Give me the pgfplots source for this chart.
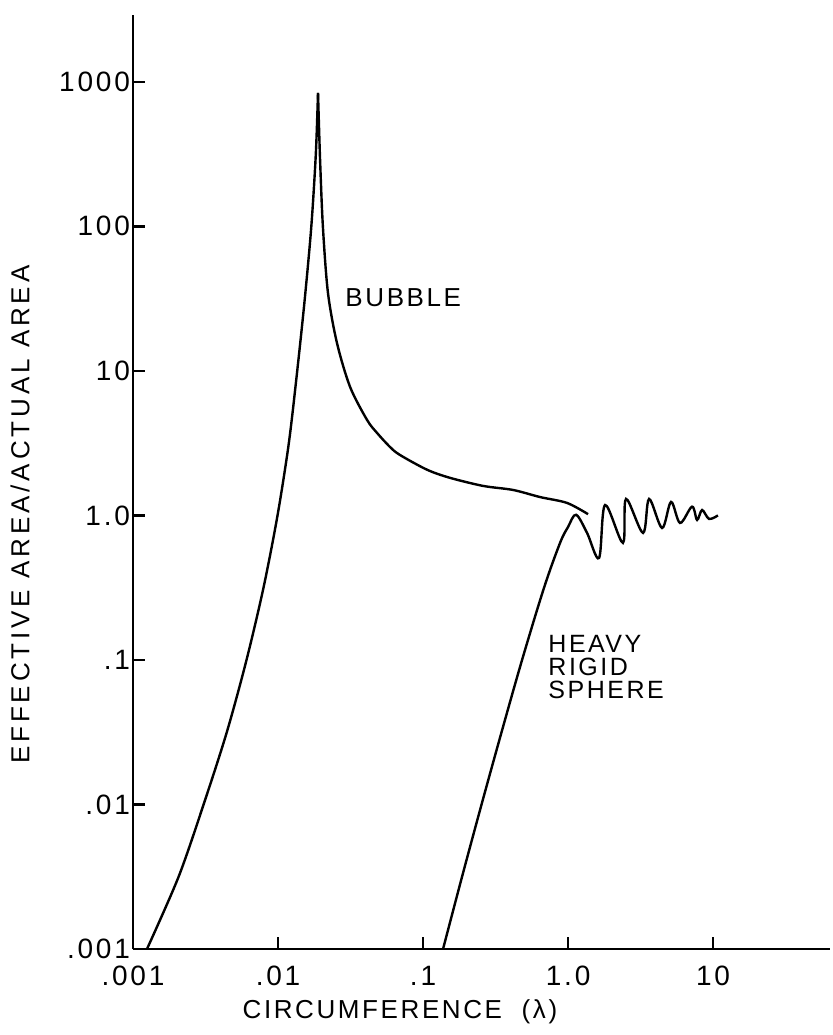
\documentclass[border=0pt]{standalone}
\usepackage{fontspec}
\setmainfont{Liberation Sans}
\newfontfamily\leroy[LetterSpace=10]{Liberation Sans}
\newfontfamily\leroyy[LetterSpace=15]{Liberation Sans}
\usepackage{pgfplots}
\pgfplotsset{compat=1.18}
\begin{document}
\begin{tikzpicture}
\useasboundingbox (0,0) rectangle (416.5pt,517.5pt);
\begin{axis}[
  at={(66.5pt,43pt)}, anchor=south west,
  scale only axis, width=348.5pt, height=467pt,
  xmode=log, ymode=log,
  xmin=0.001, xmax=64, ymin=0.001, ymax=2900,
  axis x line=bottom, axis y line=left,
  axis line style={-, line width=1.4pt},
  tick align=inside, major tick length=6pt,
  tick style={line width=1.2pt, black},
  xminorticks=false, yminorticks=false,
  xtick={0.001,0.01,0.1,1,10},
  xticklabels={.001,.01,.1,1.0,10},
  ytick={0.001,0.01,0.1,1,10,100,1000},
  yticklabels={.001,.01,.1,1.0,10,100,1000},
  /pgf/number format/assume math mode=true,
  ticklabel style={font=\fontsize{14}{16}\selectfont\leroy},
  xticklabel style={yshift=-5pt},
  yticklabel style={xshift=2pt},
  xlabel={CIRCUMFERENCE\ \ (λ)},
  ylabel={EFFECTIVE AREA/ACTUAL AREA},
  xlabel style={font=\fontsize{13}{15}\selectfont\leroy, at={(axis description cs:0.383,-0.067)}, anchor=center},
  ylabel style={font=\fontsize{13}{15}\selectfont\leroyy, at={(axis description cs:-0.162,0.465)}, anchor=center, rotate=0},
  clip=false,
]
% bubble, rising branch
\addplot[black, line width=1.2pt, smooth, tension=0.5] coordinates {
 (0.001249,0.001) (0.002063,0.003162) (0.003068,0.01) (0.004434,0.03162)
 (0.006065,0.1) (0.007943,0.3162) (0.009922,1) (0.011872,3.162)
 (0.013566,10) (0.015301,31.62) (0.016971,100) (0.018226,316.2)
 (0.018873,839)
};
% bubble, falling branch
\addplot[black, line width=1.2pt, smooth, tension=0.5] coordinates {
 (0.018873,839) (0.0195,289) (0.0204,99) (0.0221,34.7) (0.0255,15.6)
 (0.0314,7.75) (0.0411,4.58) (0.0482,3.72) (0.0591,2.98) (0.0693,2.62)
 (0.1067,2.07) (0.1534,1.82) (0.2597,1.60) (0.418,1.50) (0.641,1.34)
 (0.984,1.22) (1.374,1.02)
};
% heavy rigid sphere
\addplot[black, line width=1.2pt, smooth, tension=0.55] coordinates {
 (0.1374,0.001) (0.1858,0.003162) (0.2532,0.01) (0.3478,0.03162)
 (0.4818,0.1) (0.6831,0.3162) (0.881,0.646) (1.0,0.832) (1.136,1.01)
 (1.352,0.757) (1.636,0.508)
 (1.80,1.18) (2.39,0.646) (2.51,1.30) (3.29,0.757) (3.62,1.30)
 (4.45,0.819) (5.13,1.24) (5.92,0.887) (7.16,1.15) (7.76,0.931)
 (8.40,1.09) (9.38,0.946) (10.8,1.0)
};
\node[anchor=west, inner sep=0pt, font=\fontsize{13}{15}\selectfont\leroy] at (axis cs:0.029,32) {BUBBLE};
\node[anchor=north west, inner sep=0pt, align=left, font=\fontsize{12.5}{11.5}\selectfont\leroy] at (axis cs:0.728,0.15) {HEAVY\\RIGID\\SPHERE};
\end{axis}
\end{tikzpicture}
\end{document}
